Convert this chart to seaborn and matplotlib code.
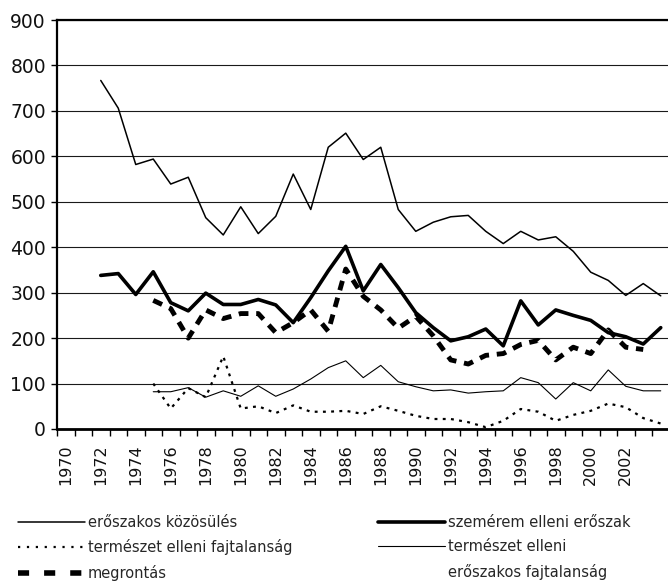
import numpy as np
import pandas as pd
import matplotlib
matplotlib.use("Agg")
import matplotlib.pyplot as plt
from matplotlib.lines import Line2D
import seaborn as sns

# adatok (leolvasva az abrarol)
evek_a = list(range(1972, 2005))
eroszakos_kozosules = [767, 706, 582, 594, 539, 554, 465, 427, 489, 430, 468, 561, 483, 620, 651,
                       593, 620, 483, 435, 455, 467, 470, 435, 408, 435, 416, 423, 391, 345, 327,
                       294, 320, 293]
szemerem_elleni = [338, 342, 296, 346, 278, 260, 299, 274, 274, 285, 273, 234, 289, 348, 402,
                   304, 362, 311, 256, 223, 194, 203, 220, 183, 282, 229, 262, 250, 239, 212,
                   203, 187, 223]

evek_m = list(range(1975, 2004))
megrontas = [283, 265, 200, 262, 243, 254, 254, 212, 234, 262, 215, 352, 292, 262, 222,
             248, 205, 152, 143, 162, 166, 186, 195, 152, 180, 166, 218, 180, 175]

evek_t = list(range(1975, 2005))
termeszet_elleni = [100, 45, 90, 70, 160, 45, 50, 35, 52, 38, 38, 40, 33, 50, 40,
                    29, 22, 22, 15, 4, 18, 44, 38, 18, 31, 40, 56, 48, 24, 12]
termeszet_eroszakos = [82, 82, 91, 70, 84, 72, 95, 72, 88, 110, 135, 150, 113, 140, 104,
                       93, 84, 86, 79, 82, 84, 113, 102, 66, 102, 84, 130, 94, 84, 84]

tick_evek = list(range(1970, 2003, 2))

sns.set_theme(style="ticks")
plt.rcParams['font.family'] = ['DejaVu Sans']

fig = plt.figure(figsize=(6.68, 5.85), dpi=100)
ax = fig.add_axes([57 / 668, 1 - 429 / 585, 612.5 / 668, 409 / 585])

# vonalak
sns.lineplot(x=evek_a, y=eroszakos_kozosules, ax=ax, color='black', linewidth=1.1, errorbar=None)
sns.lineplot(x=evek_a, y=szemerem_elleni, ax=ax, color='black', linewidth=2.6, errorbar=None)
sns.lineplot(x=evek_m, y=megrontas, ax=ax, color='black', linewidth=3.5, errorbar=None,
             linestyle=(0, (2.0, 1.6)))
sns.lineplot(x=evek_t, y=termeszet_elleni, ax=ax, color='black', linewidth=1.6, errorbar=None,
             linestyle=(0, (1.3, 2.4)))
sns.lineplot(x=evek_t, y=termeszet_eroszakos, ax=ax, color='black', linewidth=0.8, errorbar=None)

ax.set_xlim(1969.5, 2004.5)
ax.set_ylim(0, 900)
ax.set_yticks(range(0, 901, 100))
ax.set_xticks(tick_evek)
ax.set_xticklabels([str(e) for e in tick_evek])
ax.set_xticks(np.arange(1969.5, 2004.6, 1), minor=True)
ax.yaxis.grid(True, color='#1a1a1a', linewidth=0.8)
ax.xaxis.grid(False)
ax.set_axisbelow(True)
ax.set_xlabel('')
ax.set_ylabel('')

ax.tick_params(axis='x', which='major', length=0, pad=11, labelsize=11.5, labelrotation=90,
               labelcolor='#111111')
ax.tick_params(axis='x', which='minor', length=5, width=1, direction='out', color='black')
ax.tick_params(axis='y', length=4, width=1, pad=4, labelsize=13.5, color='black',
               labelcolor='#111111')

for s in ['left', 'top']:
    ax.spines[s].set_linewidth(1.6)
    ax.spines[s].set_color('black')
ax.spines['bottom'].set_linewidth(2.0)
ax.spines['bottom'].set_color('black')
ax.spines['right'].set_visible(False)

# jelmagyarazat
bal = [Line2D([], [], color='black', linewidth=1.1),
       Line2D([], [], color='black', linewidth=1.6, linestyle=(0, (1, 3))),
       Line2D([], [], color='black', linewidth=4, linestyle=(0, (2, 2.7)))]
jobb = [Line2D([], [], color='black', linewidth=2.6),
        Line2D([], [], color='black', linewidth=0.8),
        Line2D([], [], color='none')]

kozos = dict(loc='upper left', frameon=False, fontsize=10.5, handlelength=4.6,
             handletextpad=0.2, labelspacing=0.65, borderpad=0, borderaxespad=0)
fig.legend(bal, ['erőszakos közösülés', 'természet elleni fajtalanság', 'megrontás'],
           bbox_to_anchor=(18 / 668, 1 - 515 / 585), **kozos)
fig.legend(jobb, ['szemérem elleni erőszak', 'természet elleni', 'erőszakos fajtalanság'],
           bbox_to_anchor=(378 / 668, 1 - 515 / 585), **kozos)

fig.savefig('out.png', dpi=100)
